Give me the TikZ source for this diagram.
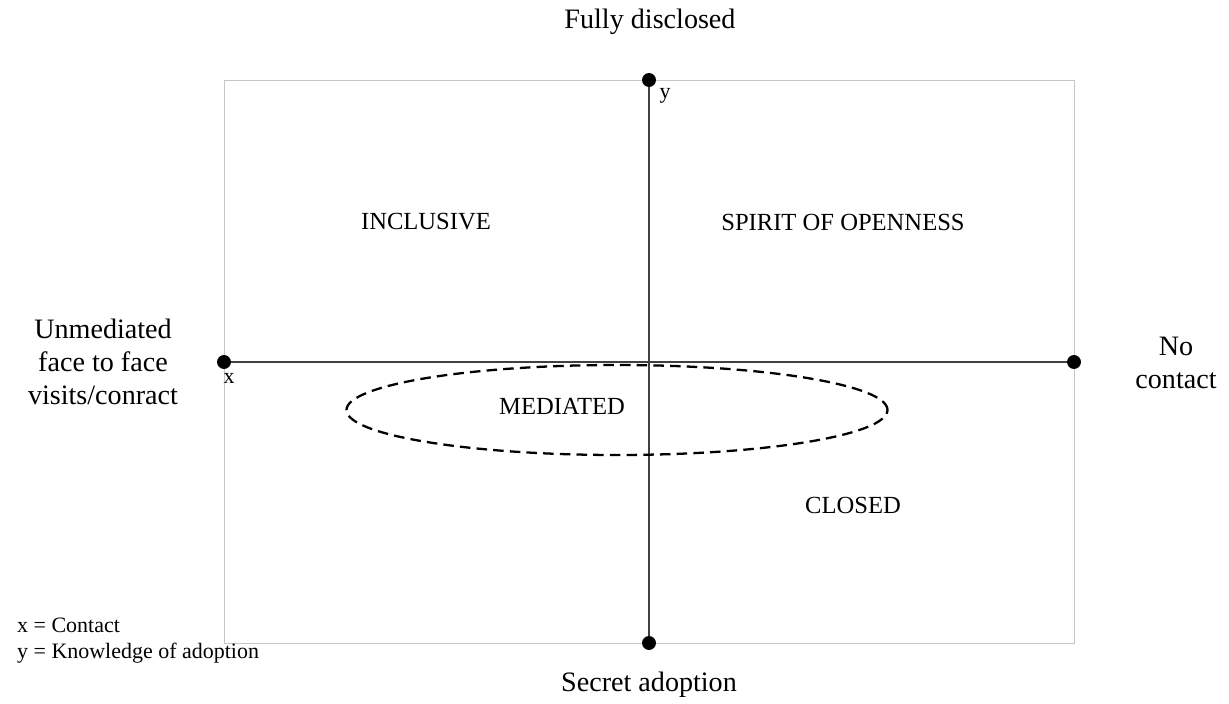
\documentclass[tikz,border=0pt]{standalone}
\usepackage{fontspec}
\setmainfont{Liberation Serif}
\usetikzlibrary{shapes.geometric}

\tikzset{
  dot/.style={circle,fill,inner sep=2.8pt},
  bigtext/.style={font=\fontsize{16}{18.7}\selectfont,align=center},
  quadtext/.style={font=\fontsize{14}{17}\selectfont},
  smalltext/.style={font=\fontsize{12.5}{14.8}\selectfont}
}

\begin{document}
\begin{tikzpicture}
\useasboundingbox (0,0) rectangle (24.58,14.08);

% frame
\coordinate (bl) at (4.48,1.22);
\coordinate (tr) at (21.48,12.48);
\draw[gray!45,thin] (bl) rectangle (tr);

% axes
\coordinate (xl) at (4.48,6.84);
\coordinate (xr) at (21.48,6.84);
\coordinate (yt) at (12.98,12.48);
\coordinate (yb) at (12.98,1.22);
\draw[black!75,semithick] (xl) -- (xr);
\draw[black!75,semithick] (yt) -- (yb);
\node (xldot) at (xl)[dot]{};
\node (xrdot) at (xr)[dot]{};
\node (ytdot) at (yt)[dot]{};
\node (ybdot) at (yb)[dot]{};

\node (xlab) at (4.58,6.52)[smalltext]{x};
\node (ylab) at (13.3,12.16)[smalltext]{y};

% ends of the axes
\node (top) at (13.0,13.64)[bigtext]{Fully disclosed};
\node (bottom) at (12.98,0.38)[bigtext]{Secret adoption};
\node (left) at (2.06,6.84)[bigtext]{Unmediated\\face to face\\visits/conract};
\node (right) at (23.52,6.82)[bigtext]{No\\contact};

% quadrants
\node (incl) at (8.52,9.64)[quadtext]{INCLUSIVE};
\node (open) at (16.86,9.64)[quadtext]{SPIRIT OF OPENNESS};
\node (closed) at (17.06,3.98)[quadtext]{CLOSED};

\node (medi) at (12.34,5.88)[ellipse,draw,line width=1.3pt,
  dash pattern=on 6pt off 3.5pt,
  minimum width=10.82cm,minimum height=1.8cm,inner sep=0pt]{};
\node (meditext) at (11.24,5.96)[quadtext]{MEDIATED};

% legend
\node (legend) at (0.22,1.26)[smalltext,anchor=west,align=left]
  {x = Contact\\y = Knowledge of adoption};
\end{tikzpicture}
\end{document}
